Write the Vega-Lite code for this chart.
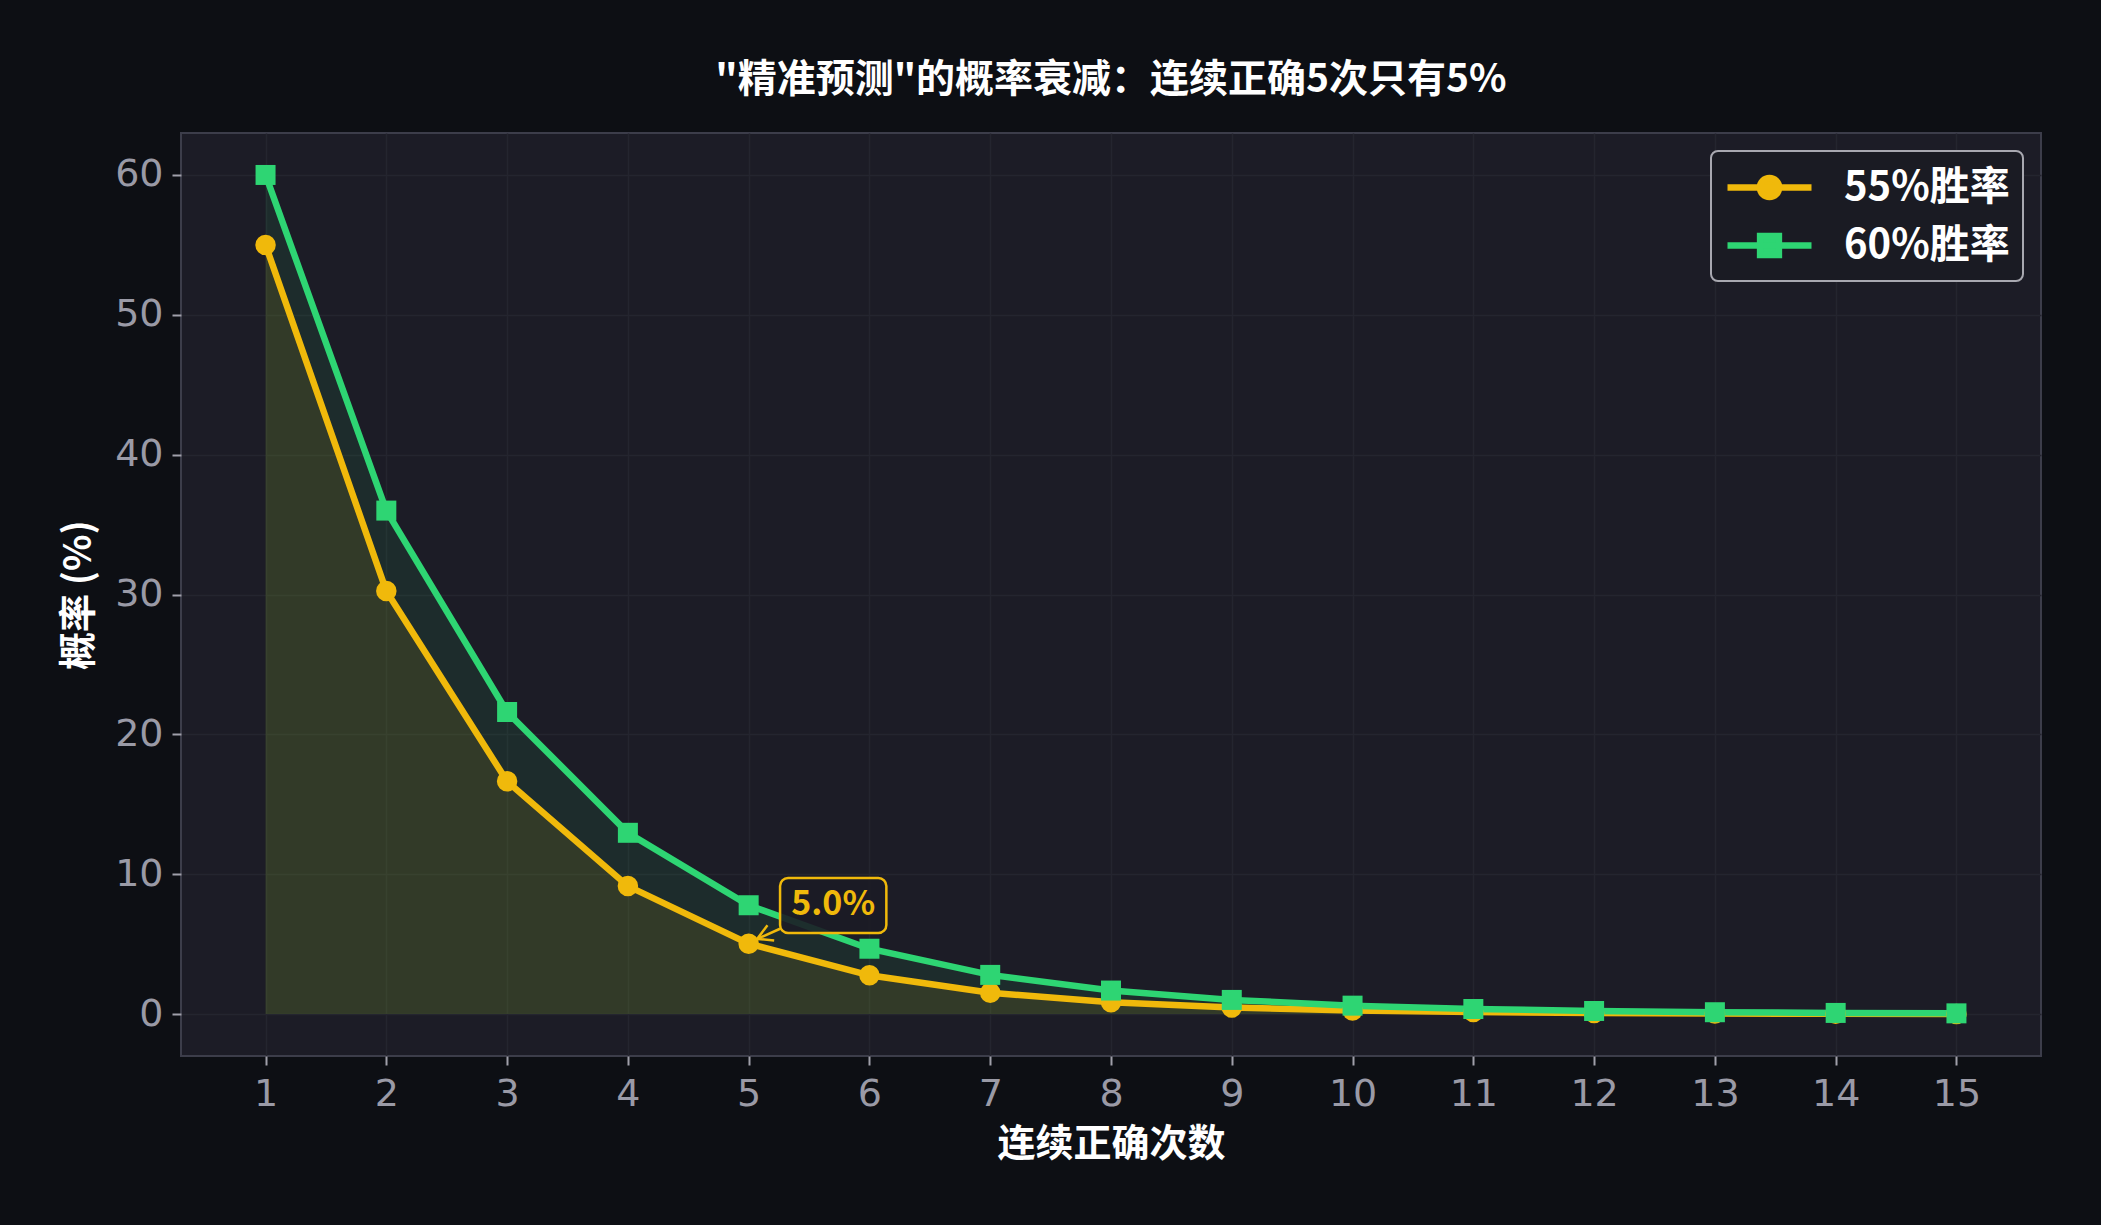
{
  "$schema": "https://vega.github.io/schema/vega-lite/v6.json",
  "description": "Probability of consecutive correct predictions at 55% and 60% win rates",
  "autosize": "none",
  "width": 1860,
  "height": 923,
  "padding": {"left": 181, "top": 133, "right": 60, "bottom": 169},
  "background": "#0d0f14",
  "title": {
    "text": "\"精准预测\"的概率衰减：连续正确5次只有5%",
    "font": "Noto Sans CJK SC",
    "fontWeight": "bold",
    "fontSize": 39,
    "color": "#ffffff",
    "anchor": "middle",
    "offset": 33
  },
  "data": {
    "values": [
      {"n": 1, "s": "55%胜率", "p": 55},
      {"n": 2, "s": "55%胜率", "p": 30.25},
      {"n": 3, "s": "55%胜率", "p": 16.64},
      {"n": 4, "s": "55%胜率", "p": 9.15},
      {"n": 5, "s": "55%胜率", "p": 5.03},
      {"n": 6, "s": "55%胜率", "p": 2.77},
      {"n": 7, "s": "55%胜率", "p": 1.52},
      {"n": 8, "s": "55%胜率", "p": 0.84},
      {"n": 9, "s": "55%胜率", "p": 0.46},
      {"n": 10, "s": "55%胜率", "p": 0.25},
      {"n": 11, "s": "55%胜率", "p": 0.14},
      {"n": 12, "s": "55%胜率", "p": 0.08},
      {"n": 13, "s": "55%胜率", "p": 0.04},
      {"n": 14, "s": "55%胜率", "p": 0.02},
      {"n": 15, "s": "55%胜率", "p": 0.01},
      {"n": 1, "s": "60%胜率", "p": 60},
      {"n": 2, "s": "60%胜率", "p": 36},
      {"n": 3, "s": "60%胜率", "p": 21.6},
      {"n": 4, "s": "60%胜率", "p": 12.96},
      {"n": 5, "s": "60%胜率", "p": 7.78},
      {"n": 6, "s": "60%胜率", "p": 4.67},
      {"n": 7, "s": "60%胜率", "p": 2.8},
      {"n": 8, "s": "60%胜率", "p": 1.68},
      {"n": 9, "s": "60%胜率", "p": 1.01},
      {"n": 10, "s": "60%胜率", "p": 0.6},
      {"n": 11, "s": "60%胜率", "p": 0.36},
      {"n": 12, "s": "60%胜率", "p": 0.22},
      {"n": 13, "s": "60%胜率", "p": 0.13},
      {"n": 14, "s": "60%胜率", "p": 0.08},
      {"n": 15, "s": "60%胜率", "p": 0.05}
    ]
  },
  "encoding": {
    "x": {
      "field": "n",
      "type": "quantitative",
      "scale": {"domain": [0.3, 15.7], "nice": false, "zero": false},
      "axis": {
        "title": "连续正确次数",
        "values": [1, 2, 3, 4, 5, 6, 7, 8, 9, 10, 11, 12, 13, 14, 15],
        "format": "d",
        "labelPadding": 10,
        "titlePadding": 12
      }
    },
    "y": {
      "field": "p",
      "type": "quantitative",
      "scale": {"domain": [-3, 63], "nice": false, "zero": false},
      "axis": {
        "title": "概率 (%)",
        "values": [0, 10, 20, 30, 40, 50, 60],
        "labelPadding": 9,
        "titlePadding": 16
      }
    }
  },
  "layer": [
    {
      "transform": [{"filter": "datum.s === '60%胜率'"}],
      "mark": {"type": "area", "color": "#2ed573", "opacity": 0.09},
      "encoding": {"y2": {"datum": 0}}
    },
    {
      "transform": [{"filter": "datum.s === '55%胜率'"}],
      "mark": {"type": "area", "color": "#f0b90b", "opacity": 0.1},
      "encoding": {"y2": {"datum": 0}}
    },
    {
      "mark": {"type": "line", "strokeWidth": 6.5},
      "encoding": {
        "color": {
          "field": "s",
          "type": "nominal",
          "scale": {"domain": ["55%胜率", "60%胜率"], "range": ["#f0b90b", "#2ed573"]},
          "legend": {
            "title": null,
            "orient": "top-right",
            "offset": 18,
            "padding": 13,
            "fillColor": "#1a1b23",
            "strokeColor": "#a8a8b0",
            "cornerRadius": 7,
            "symbolSize": 1600,
            "symbolStrokeWidth": 6.5,
            "labelOffset": 73,
            "rowPadding": 11,
            "labelLimit": 400,
            "labelFont": "Noto Sans CJK SC",
            "labelFontWeight": "bold",
            "labelFontSize": 40,
            "labelColor": "#ffffff",
            "encode": {
              "legend": {"update": {"strokeWidth": {"value": 2}}},
              "symbols": {
                "update": {
                  "shape": {"signal": "datum.value === '55%胜率' ? 'M-1,0L3.2,0M1.58,0A0.48,0.48,0,1,1,0.62,0A0.48,0.48,0,1,1,1.58,0Z' : 'M-1,0L3.2,0M0.63,-0.47L1.57,-0.47L1.57,0.47L0.63,0.47Z'"},
                  "fill": {"signal": "scale('color', datum.value)"},
                  "stroke": {"signal": "scale('color', datum.value)"},
                  "fillOpacity": {"value": 1},
                  "strokeOpacity": {"value": 1}
                }
              }
            }
          }
        }
      }
    },
    {
      "transform": [{"filter": "datum.s === '55%胜率'"}],
      "mark": {"type": "point", "shape": "circle", "filled": true, "opacity": 1, "size": 420, "color": "#f0b90b"}
    },
    {
      "transform": [{"filter": "datum.s === '60%胜率'"}],
      "mark": {"type": "point", "shape": "square", "filled": true, "opacity": 1, "size": 400, "color": "#2ed573"}
    },
    {
      "data": {"values": [{"xa": 5.26, "ya": 6.1, "xb": 5.07, "yb": 5.37}]},
      "mark": {"type": "rule", "color": "#f0b90b", "strokeWidth": 2.5},
      "encoding": {
        "x": {"field": "xa", "type": "quantitative"},
        "y": {"field": "ya", "type": "quantitative"},
        "x2": {"field": "xb"},
        "y2": {"field": "yb"}
      }
    },
    {
      "data": {"values": [{"xa": 5.07, "ya": 5.37}]},
      "mark": {
        "type": "point",
        "shape": "M-1,-0.55L0,0L-1,0.55",
        "angle": 156,
        "size": 900,
        "filled": false,
        "stroke": "#f0b90b",
        "strokeWidth": 2.5,
        "opacity": 1
      },
      "encoding": {
        "x": {"field": "xa", "type": "quantitative"},
        "y": {"field": "ya", "type": "quantitative"}
      }
    },
    {
      "data": {"values": [{"xa": 5.26, "xb": 6.14, "ya": 9.73, "yb": 5.8}]},
      "mark": {
        "type": "rect",
        "fill": "#1c1c26",
        "fillOpacity": 0.9,
        "stroke": "#f0b90b",
        "strokeWidth": 2.5,
        "cornerRadius": 8
      },
      "encoding": {
        "x": {"field": "xa", "type": "quantitative"},
        "y": {"field": "ya", "type": "quantitative"},
        "x2": {"field": "xb"},
        "y2": {"field": "yb"}
      }
    },
    {
      "data": {"values": [{"xa": 5.7, "ya": 7.77, "label": "5.0%"}]},
      "mark": {
        "type": "text",
        "font": "Noto Sans CJK SC",
        "fontWeight": "bold",
        "fontSize": 34,
        "color": "#f0b90b",
        "align": "center",
        "baseline": "middle"
      },
      "encoding": {
        "x": {"field": "xa", "type": "quantitative"},
        "y": {"field": "ya", "type": "quantitative"},
        "text": {"field": "label"}
      }
    }
  ],
  "config": {
    "view": {"fill": "#1c1c26", "stroke": "#3c3d4a", "strokeWidth": 2},
    "axis": {
      "domain": false,
      "grid": true,
      "gridColor": "#24252f",
      "gridWidth": 1.5,
      "tickColor": "#a0a0aa",
      "tickSize": 9,
      "tickWidth": 2,
      "labelFont": "DejaVu Sans",
      "labelFontSize": 38,
      "labelColor": "#9a9aa6",
      "titleFont": "Noto Sans CJK SC",
      "titleFontWeight": "bold",
      "titleFontSize": 38,
      "titleColor": "#ffffff"
    }
  }
}
